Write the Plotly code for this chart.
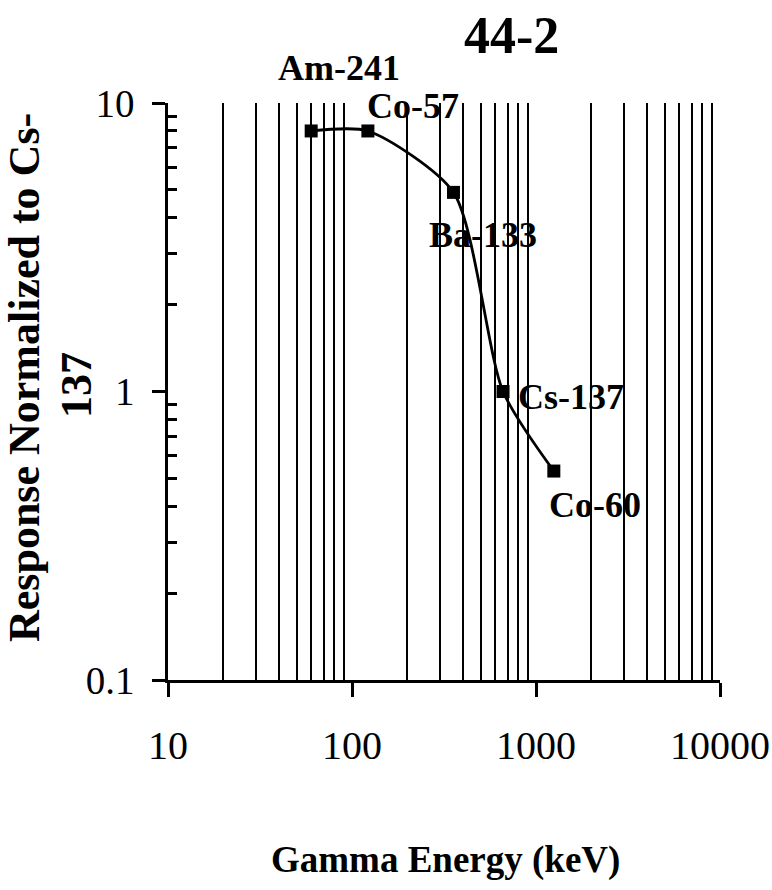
import math
import plotly.graph_objects as go

# ---- data ----
isotopes = ["Am-241", "Co-57", "Ba-133", "Cs-137", "Co-60"]
energy_kev = [60, 122, 356, 662, 1250]
response = [8.0, 8.0, 4.9, 1.0, 0.53]

x_major = [10, 100, 1000, 10000]
x_major_text = ["10", "100", "1000", "10000"]
x_minor = [m * d for d in (10, 100, 1000) for m in range(2, 10)]
y_major = [0.1, 1, 10]
y_major_text = ["0.1", "1", "10"]
y_minor = [m * d for d in (0.1, 1) for m in range(2, 10)]

# label offsets (pixels) relative to each point
label_dx = [28, 45, 30, 68, 41]
label_dy = [63, 25, -43, -5, -34]

FONT = "Liberation Serif"

fig = go.Figure()

# invisible helper trace for overlay axes (minor grid/ticks)
fig.add_trace(go.Scatter(x=energy_kev, y=response, xaxis="x2", yaxis="y2",
                         mode="markers", marker=dict(opacity=0),
                         hoverinfo="skip", showlegend=False))

fig.add_trace(go.Scatter(
    x=energy_kev, y=response, mode="lines+markers",
    line=dict(color="black", width=2.8, shape="spline", smoothing=0.7),
    marker=dict(symbol="square", size=13, color="black"),
    showlegend=False))

rng_x = [1, 4]
rng_y = [-1, 1]

fig.update_layout(
    width=772, height=890,
    margin=dict(l=168, r=52, t=103, b=210, autoexpand=False),
    paper_bgcolor="white", plot_bgcolor="white",
    font=dict(family=FONT, color="black"),
    xaxis=dict(type="log", range=rng_x, tickvals=x_major, ticktext=x_major_text,
               showgrid=False, zeroline=False, showline=True, linecolor="black",
               linewidth=2.5, ticks="outside", ticklen=14, tickwidth=2.5,
               tickcolor="black", tickfont=dict(size=40, family=FONT),
               ticklabelstandoff=14, automargin=False),
    xaxis2=dict(type="log", range=rng_x, overlaying="x", anchor="y",
                tickvals=x_minor, showticklabels=False, showgrid=True,
                gridcolor="black", gridwidth=1.5, zeroline=False,
                showline=False, ticks=""),
    yaxis=dict(type="log", range=rng_y, tickvals=y_major, ticktext=y_major_text,
               showgrid=False, zeroline=False, showline=True, linecolor="black",
               linewidth=2.5, ticks="outside", ticklen=13, tickwidth=2.5,
               tickcolor="black", tickfont=dict(size=39, family=FONT),
               ticklabelstandoff=10, automargin=False),
    yaxis2=dict(type="log", range=rng_y, overlaying="y", anchor="x",
                tickvals=y_minor, showticklabels=False, showgrid=False,
                zeroline=False, showline=False, ticks="inside", ticklen=9,
                tickwidth=2.5, tickcolor="black"),
)

# horizontal reference gridline at 1
fig.add_shape(type="line", xref="paper", yref="y", x0=0, x1=1,
              y0=math.log10(1), y1=math.log10(1),
              line=dict(color="black", width=1.8), layer="below")

annotations = []
for name, xv, yv, dx, dy in zip(isotopes, energy_kev, response, label_dx, label_dy):
    annotations.append(dict(x=math.log10(xv), y=math.log10(yv), xref="x", yref="y",
                            text="<b>" + name + "</b>",
                            showarrow=False, xshift=dx, yshift=dy,
                            font=dict(size=36, family=FONT),
                            xanchor="center", yanchor="middle"))

# chart title
annotations.append(dict(text="<b>44-2</b>", xref="paper", yref="paper",
                        x=(511 - 168) / 552, y=(680 - 35) / 577,
                        showarrow=False, font=dict(size=52, family=FONT),
                        xanchor="center", yanchor="middle"))
# axis titles
annotations.append(dict(text="<b>Gamma Energy (keV)</b>", xref="paper", yref="paper",
                        x=(445 - 168) / 552, y=(680 - 860) / 577,
                        showarrow=False, font=dict(size=37, family=FONT),
                        xanchor="center", yanchor="middle"))
annotations.append(dict(text="<b>Response Normalized to Cs-</b>", xref="paper", yref="paper",
                        x=(24 - 168) / 552, y=(680 - 378) / 577, textangle=-90,
                        showarrow=False, font=dict(size=44, family=FONT),
                        xanchor="center", yanchor="middle"))
annotations.append(dict(text="<b>137</b>", xref="paper", yref="paper",
                        x=(76 - 168) / 552, y=(680 - 385) / 577, textangle=-90,
                        showarrow=False, font=dict(size=44, family=FONT),
                        xanchor="center", yanchor="middle"))

fig.update_layout(annotations=annotations)

fig.write_html("out.html", config={"displayModeBar": False},
               post_script="document.body.style.margin='0';document.body.style.overflow='hidden';")
